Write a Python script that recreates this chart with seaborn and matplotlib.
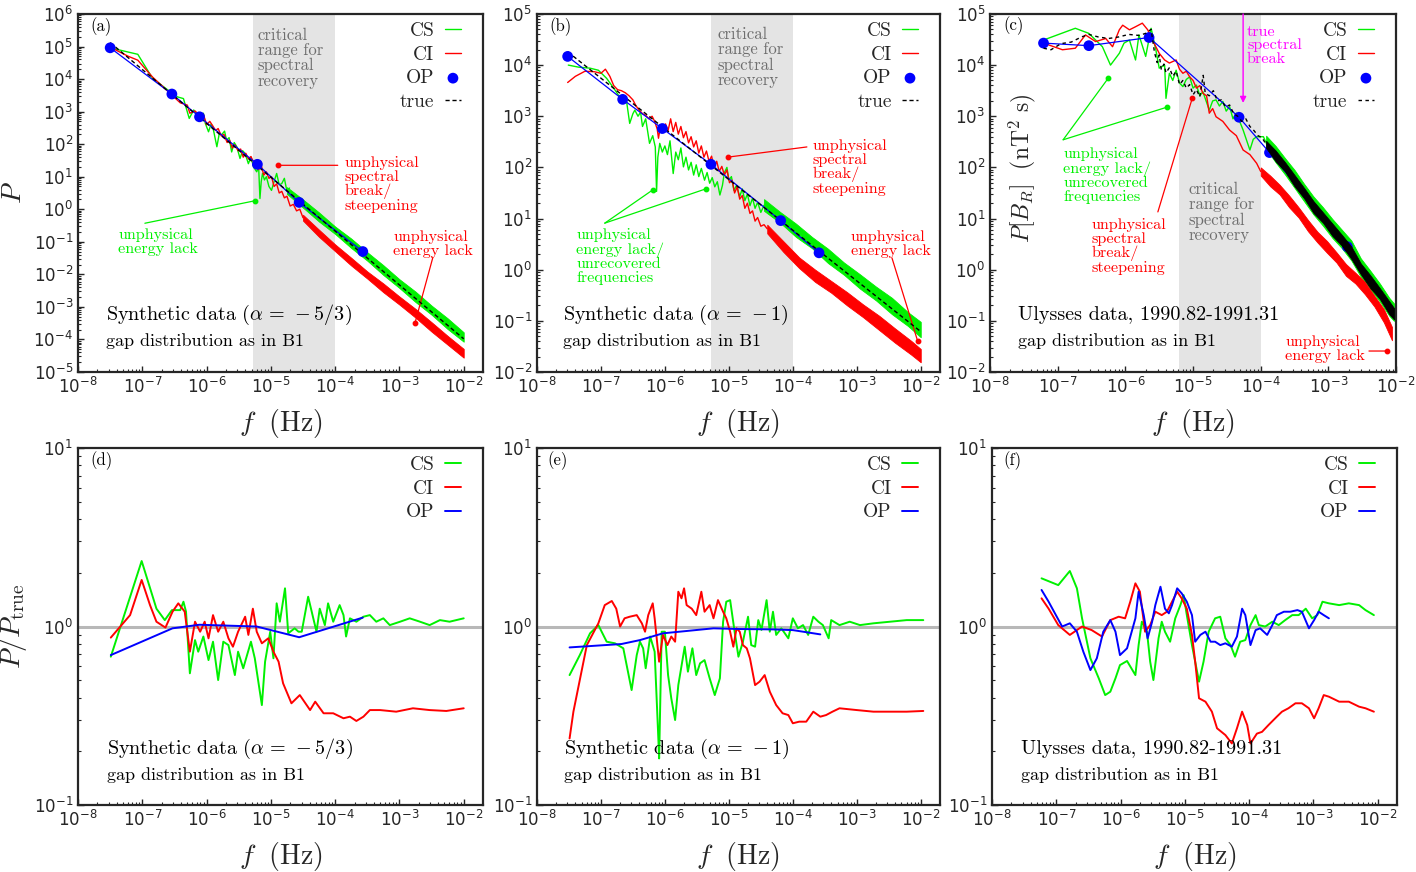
import numpy as np
import matplotlib
matplotlib.use("Agg")
import matplotlib.pyplot as plt
import seaborn as sns
from matplotlib.ticker import LogLocator, NullFormatter

# All values are log10:  lf = log10(f / Hz), lp = log10(P), lr = log10(P / P_true)

# ---------------- (a) synthetic data, alpha = -5/3 ----------------
a_true_lf = [-7.50, -2.00]
a_true_lp = [5.12, -3.98]
a_op_lf = [-7.50, -6.54, -6.11, -5.21, -4.56, -3.57]
a_op_lp = [4.96, 3.54, 2.84, 1.38, 0.21, -1.30]
a_cs_lf = [-7.50, -7.07, -6.84, -6.60, -6.45, -6.36, -6.27, -6.20, -6.14, -6.10, -6.05, -6.02,
           -5.97, -5.93, -5.90, -5.84, -5.80, -5.77, -5.72, -5.69, -5.65, -5.61, -5.57, -5.53,
           -5.48, -5.44, -5.40, -5.35, -5.31, -5.27, -5.22, -5.19, -5.17, -5.15, -5.13, -5.10,
           -5.07, -5.03, -4.99, -4.95, -4.91, -4.87, -4.83, -4.79, -4.75, -4.71]
a_cs_lp = [4.96, 4.76, 4.02, 3.66, 3.45, 3.40, 2.79, 3.05, 2.85, 2.79, 2.95, 2.64,
           2.38, 2.62, 2.50, 1.92, 2.35, 2.28, 2.40, 2.12, 2.20, 1.76, 2.05, 1.92,
           1.56, 1.80, 1.71, 1.40, 1.60, 1.30, 1.15, 1.30, 0.33, 0.85, 1.10, 0.90,
           1.00, 0.70, 0.58, 0.85, 1.10, 0.75, 0.79, 0.95, 0.55, 0.65]
a_cs_band_lf = [-4.75, -4.50, -4.25, -4.00, -3.75, -3.50, -3.25, -3.00, -2.75, -2.50, -2.25, -2.00]
a_cs_band_lo = [0.47, 0.05, -0.38, -0.76, -1.19, -1.58, -2.02, -2.42, -2.85, -3.24, -3.68, -4.07]
a_cs_band_hi = [0.68, 0.30, -0.10, -0.53, -0.90, -1.32, -1.72, -2.15, -2.53, -2.96, -3.35, -3.78]
a_ci_lf = [-7.50, -7.22, -7.07, -6.84, -6.60, -6.41, -6.30, -6.26, -6.18, -6.10, -6.05, -6.00,
           -5.95, -5.90, -5.86, -5.82, -5.77, -5.73, -5.68, -5.64, -5.60, -5.56, -5.51, -5.47,
           -5.43, -5.39, -5.35, -5.31, -5.27, -5.23, -5.19, -5.15, -5.11, -5.07, -5.03, -4.99,
           -4.95, -4.91, -4.87, -4.83, -4.79, -4.75, -4.70, -4.65, -4.60, -4.55, -4.50]
a_ci_lp = [4.98, 4.70, 4.58, 4.06, 3.62, 3.27, 3.20, 2.95, 3.02, 2.86, 2.92, 2.60,
           2.70, 2.55, 2.42, 2.48, 2.25, 2.30, 2.05, 2.12, 1.88, 1.98, 1.80, 1.85,
           1.60, 1.72, 1.55, 1.62, 1.45, 1.50, 1.22, 1.35, 1.05, 1.15, 0.95, 1.00,
           0.70, 0.78, 0.50, 0.55, 0.35, 0.40, 0.10, 0.15, -0.05, 0.00, -0.26]
a_ci_band_lf = [-4.50, -4.25, -4.00, -3.75, -3.50, -3.25, -3.00, -2.75, -2.50, -2.25, -2.00]
a_ci_band_lo = [-0.35, -0.85, -1.29, -1.73, -2.13, -2.55, -2.93, -3.33, -3.76, -4.16, -4.56]
a_ci_band_hi = [-0.17, -0.63, -1.08, -1.49, -1.91, -2.28, -2.68, -3.06, -3.47, -3.89, -4.29]

# ---------------- (b) synthetic data, alpha = -1 ----------------
b_true_lf = [-7.52, -2.00]
b_true_lp = [4.26, -1.21]
b_op_lf = [-7.52, -6.66, -6.04, -5.28, -4.19, -3.59]
b_op_lp = [4.17, 3.33, 2.76, 2.06, 0.96, 0.33]
b_cs_lf = [-7.51, -7.35, -7.17, -7.04, -6.91, -6.80, -6.72, -6.66, -6.60, -6.55, -6.50, -6.47,
           -6.42, -6.38, -6.35, -6.30, -6.24, -6.19, -6.15, -6.13, -6.11, -6.08, -6.04, -6.00,
           -5.96, -5.92, -5.87, -5.83, -5.79, -5.75, -5.71, -5.67, -5.63, -5.59, -5.55, -5.51,
           -5.47, -5.43, -5.38, -5.34, -5.30, -5.26, -5.22, -5.18, -5.14, -5.10, -5.07, -5.03,
           -5.00, -4.96, -4.92, -4.88, -4.83, -4.79, -4.75, -4.71, -4.67, -4.63, -4.59, -4.55,
           -4.50, -4.45]
b_cs_lp = [4.00, 3.96, 3.94, 3.90, 3.74, 3.55, 3.40, 3.38, 3.30, 2.86, 3.05, 3.12,
           3.00, 3.08, 2.80, 2.95, 2.47, 2.62, 2.40, 1.53, 2.20, 2.47, 2.30, 2.42,
           2.25, 2.52, 1.88, 2.30, 2.15, 2.38, 2.01, 2.20, 1.95, 2.10, 1.85, 2.05,
           1.82, 1.98, 1.75, 1.90, 1.69, 1.80, 1.62, 1.72, 1.46, 1.65, 1.90, 2.00,
           1.75, 1.82, 1.55, 1.65, 1.43, 1.58, 1.35, 1.48, 1.25, 1.40, 1.20, 1.32,
           1.12, 1.26]
b_cs_band_lf = [-4.45, -4.20, -3.95, -3.70, -3.45, -3.20, -2.95, -2.70, -2.45, -2.20, -2.00]
b_cs_band_lo = [1.15, 0.92, 0.64, 0.42, 0.13, -0.10, -0.37, -0.60, -0.87, -1.10, -1.32]
b_cs_band_hi = [1.38, 1.13, 0.90, 0.64, 0.41, 0.14, -0.09, -0.33, -0.55, -0.83, -1.02]
b_ci_lf = [-7.52, -7.40, -7.25, -7.10, -7.00, -6.93, -6.86, -6.80, -6.74, -6.68, -6.62, -6.56,
           -6.50, -6.45, -6.40, -6.35, -6.30, -6.25, -6.20, -6.16, -6.12, -6.10, -6.07, -6.03,
           -5.99, -5.95, -5.91, -5.87, -5.83, -5.79, -5.75, -5.71, -5.67, -5.63, -5.59, -5.55,
           -5.51, -5.47, -5.43, -5.39, -5.35, -5.31, -5.27, -5.23, -5.19, -5.15, -5.11, -5.07,
           -5.03, -4.99, -4.95, -4.91, -4.87, -4.83, -4.79, -4.75, -4.71, -4.67, -4.63, -4.59,
           -4.55, -4.50, -4.45, -4.40]
b_ci_lp = [3.66, 3.78, 3.88, 3.87, 3.84, 3.92, 3.78, 3.60, 3.52, 3.50, 3.46, 3.40,
           3.32, 3.20, 3.12, 3.05, 3.02, 2.95, 3.00, 2.90, 2.75, 2.57, 2.80, 2.70,
           2.85, 2.72, 2.95, 2.70, 2.88, 2.65, 2.80, 2.58, 2.70, 2.48, 2.60, 2.40,
           2.52, 2.28, 2.42, 2.20, 2.32, 2.12, 2.22, 2.00, 2.12, 1.92, 2.02, 1.85,
           1.95, 1.70, 1.75, 1.50, 1.62, 1.38, 1.45, 1.20, 1.30, 1.10, 1.15, 0.95,
           1.02, 0.85, 0.88, 0.80]
b_ci_band_lf = [-4.40, -4.15, -3.90, -3.65, -3.40, -3.15, -2.90, -2.65, -2.40, -2.15, -2.00]
b_ci_band_lo = [0.71, 0.35, 0.03, -0.24, -0.45, -0.70, -0.93, -1.18, -1.43, -1.66, -1.81]
b_ci_band_hi = [0.88, 0.56, 0.24, 0.00, -0.22, -0.44, -0.68, -0.90, -1.15, -1.39, -1.55]

# ---------------- (c) Ulysses data ----------------
c_op_lf = [-7.21, -6.54, -5.65, -4.32, -3.87, -2.72]
c_op_lp = [4.43, 4.38, 4.54, 2.98, 2.29, 0.45]
c_true_lf = [-7.21, -7.10, -6.95, -6.80, -6.65, -6.54, -6.40, -6.25, -6.10, -5.95, -5.80, -5.70,
             -5.62, -5.57, -5.53, -5.50, -5.47, -5.43, -5.40, -5.35, -5.30, -5.25, -5.20, -5.15,
             -5.10, -5.05, -5.00, -4.95, -4.90, -4.85, -4.82, -4.76, -4.70, -4.64, -4.58, -4.52,
             -4.46, -4.40, -4.34, -4.28, -4.22, -4.16, -4.10, -4.04, -3.98, -3.92]
c_true_lp = [4.33, 4.30, 4.42, 4.45, 4.55, 4.60, 4.55, 4.52, 4.55, 4.60, 4.58, 4.62,
             4.70, 4.25, 4.05, 4.20, 3.92, 4.02, 3.85, 3.95, 3.78, 3.88, 3.62, 3.70,
             3.55, 3.62, 3.42, 3.52, 3.38, 3.80, 3.45, 3.40, 3.50, 3.30, 3.32, 3.18,
             3.22, 3.05, 3.00, 2.90, 2.95, 2.80, 2.72, 2.62, 2.58, 2.45]
c_band_lf = [-3.92, -3.78, -3.64, -3.50, -3.36, -3.22, -3.08, -2.94, -2.80, -2.66, -2.52, -2.38,
             -2.24, -2.10, -2.03]
c_true_band_lo = [2.38, 2.12, 1.92, 1.63, 1.40, 1.11, 0.92, 0.66, 0.47, 0.21, -0.09, -0.36,
                  -0.57, -0.87, -0.97]
c_true_band_hi = [2.52, 2.33, 2.10, 1.85, 1.60, 1.34, 1.12, 0.90, 0.68, 0.45, 0.12, -0.11,
                  -0.36, -0.62, -0.75]
c_cs_band_lo = [2.36, 2.10, 1.86, 1.60, 1.34, 1.08, 0.86, 0.62, 0.42, 0.18, -0.14, -0.38,
                -0.62, -0.90, -1.00]
c_cs_band_hi = [2.62, 2.42, 2.18, 1.95, 1.68, 1.43, 1.22, 0.99, 0.78, 0.57, 0.22, -0.02,
                -0.27, -0.55, -0.66]
c_cs_lf = [-7.21, -6.74, -6.54, -6.34, -6.22, -6.09, -6.02, -5.94, -5.85, -5.80, -5.70, -5.62,
           -5.55, -5.50, -5.42, -5.40, -5.35, -5.30, -5.25, -5.20, -5.15, -5.10, -5.05, -5.00,
           -4.95, -4.90, -4.855, -4.76, -4.71, -4.66, -4.61, -4.56, -4.51, -4.46, -4.41, -4.36,
           -4.26, -4.16, -4.11, -4.06, -3.96, -3.91]
c_cs_lp = [4.49, 4.72, 4.62, 4.36, 4.00, 4.23, 4.43, 4.49, 4.10, 4.59, 4.17, 4.72,
           4.30, 3.94, 4.00, 3.35, 3.84, 3.70, 3.90, 3.65, 3.58, 3.72, 3.77, 3.55,
           3.61, 3.40, 3.48, 3.12, 3.30, 3.32, 3.20, 3.29, 3.10, 3.19, 2.95, 3.06,
           2.73, 2.34, 2.55, 2.60, 2.60, 2.45]
c_ci_lf = [-7.21, -6.93, -6.74, -6.59, -6.44, -6.29, -6.19, -6.09, -6.04, -5.94, -5.85, -5.75,
           -5.67, -5.60, -5.50, -5.42, -5.35, -5.25, -5.20, -5.15, -5.10, -5.05, -5.00, -4.95,
           -4.90, -4.855, -4.80, -4.76, -4.71, -4.66, -4.56, -4.46, -4.36, -4.26, -4.16, -4.06,
           -4.00]
c_ci_lp = [4.43, 4.30, 4.33, 4.59, 4.46, 4.52, 4.36, 4.69, 4.78, 4.69, 4.75, 4.82,
           4.69, 4.49, 4.23, 4.10, 4.04, 4.10, 3.92, 3.84, 3.88, 3.77, 3.70, 3.55,
           3.60, 3.45, 3.40, 3.06, 3.15, 2.99, 2.90, 2.73, 2.62, 2.34, 2.25, 2.08,
           1.92]
c_ci_band_lf = [-4.00, -3.86, -3.72, -3.58, -3.44, -3.30, -3.16, -3.02, -2.88, -2.74, -2.60,
                -2.46, -2.32, -2.18, -2.06]
c_ci_band_lo = [1.84, 1.63, 1.47, 1.22, 1.02, 0.75, 0.53, 0.33, 0.14, -0.12, -0.27,
                -0.48, -0.72, -1.03, -1.38]
c_ci_band_hi = [2.00, 1.84, 1.66, 1.45, 1.22, 0.97, 0.74, 0.56, 0.34, 0.11, -0.06,
                -0.24, -0.51, -0.77, -1.12]

# ---------------- (d) ratio, alpha = -5/3 ----------------
d_op_lf = [-7.49, -6.53, -6.11, -5.22, -4.56, -3.57]
d_op_lr = [-0.16, -0.01, 0.01, 0.00, -0.06, 0.05]
d_cs_lf = [-7.49, -7.01, -6.78, -6.65, -6.54, -6.41, -6.36, -6.32, -6.26, -6.18, -6.13, -6.05,
           -5.97, -5.90, -5.82, -5.74, -5.66, -5.56, -5.51, -5.43, -5.31, -5.25, -5.14, -5.09,
           -5.01, -4.96, -4.91, -4.86, -4.78, -4.73, -4.63, -4.57, -4.52, -4.42, -4.34, -4.29,
           -4.24, -4.16, -4.11, -4.03, -3.93, -3.87, -3.83, -3.77, -3.67, -3.56, -3.46, -3.36,
           -3.25, -3.15, -2.99, -2.84, -2.68, -2.53, -2.37, -2.22, -2.00]
d_cs_lr = [-0.169, 0.367, 0.10, 0.036, 0.092, 0.092, 0.139, 0.083, -0.262, -0.076, -0.141, -0.056,
           -0.188, -0.085, -0.30, -0.085, -0.104, -0.272, -0.141, -0.234, -0.085, -0.178, -0.44, -0.197,
           -0.029, -0.178, 0.13, 0.027, 0.214, -0.038, -0.01, -0.029, -0.029, 0.167, 0.046, -0.029,
           0.10, 0.008, 0.13, 0.027, 0.12, 0.064, -0.056, 0.046, 0.027, 0.055, 0.064, 0.027,
           0.046, 0.008, 0.027, 0.046, 0.027, 0.008, 0.036, 0.027, 0.046]
d_ci_lf = [-7.49, -7.19, -7.01, -6.88, -6.78, -6.64, -6.53, -6.44, -6.34, -6.26, -6.18, -6.10,
           -6.03, -5.97, -5.90, -5.82, -5.74, -5.66, -5.59, -5.51, -5.40, -5.35, -5.28, -5.22,
           -5.14, -5.04, -4.96, -4.88, -4.81, -4.68, -4.55, -4.39, -4.31, -4.18, -4.03, -3.87,
           -3.77, -3.67, -3.56, -3.46, -3.30, -3.05, -2.79, -2.53, -2.27, -2.00]
d_ci_lr = [-0.062, 0.064, 0.261, 0.12, 0.027, -0.006, 0.083, 0.13, 0.083, -0.141, 0.027, -0.029,
           0.027, -0.066, 0.064, -0.029, 0.027, -0.066, -0.113, -0.029, 0.055, -0.047, 0.10, -0.029,
           -0.094, -0.066, -0.141, -0.197, -0.318, -0.43, -0.384, -0.468, -0.421, -0.486, -0.486, -0.514,
           -0.505, -0.529, -0.505, -0.468, -0.468, -0.477, -0.458, -0.468, -0.473, -0.458]

# ---------------- (e) ratio, alpha = -1 ----------------
e_op_lf = [-7.49, -6.68, -6.39, -6.03, -5.66, -5.24, -4.83, -4.31, -4.00, -3.57]
e_op_lr = [-0.117, -0.098, -0.076, -0.038, -0.025, -0.010, -0.014, -0.016, -0.020, -0.044]
e_cs_lf = [-7.49, -7.33, -7.17, -7.04, -6.91, -6.78, -6.65, -6.52, -6.44, -6.39, -6.34, -6.30,
           -6.23, -6.16, -6.10, -6.09, -6.05, -6.00, -5.95, -5.90, -5.84, -5.79, -5.69, -5.64,
           -5.57, -5.51, -5.45, -5.38, -5.30, -5.22, -5.14, -5.09, -5.04, -4.98, -4.91, -4.85,
           -4.78, -4.70, -4.65, -4.59, -4.54, -4.49, -4.41, -4.36, -4.31, -4.26, -4.18, -4.07,
           -4.00, -3.92, -3.84, -3.76, -3.68, -3.60, -3.53, -3.44, -3.40, -3.27, -3.11, -2.95,
           -2.74, -2.48, -2.22, -1.96]
e_cs_lr = [-0.272, -0.16, -0.038, 0.008, -0.085, -0.094, -0.122, -0.356, -0.16, -0.085, -0.122, -0.234,
           -0.056, -0.141, -0.645, -0.739, -0.029, -0.029, -0.272, -0.402, -0.524, -0.328, -0.113, -0.253,
           -0.122, -0.272, -0.206, -0.188, -0.29, -0.384, -0.29, 0.027, 0.139, 0.148, -0.029, -0.169,
           -0.085, 0.055, -0.104, -0.113, 0.036, -0.019, 0.148, -0.029, 0.083, -0.047, -0.01, -0.066,
           0.046, -0.01, 0.008, -0.047, 0.055, 0.027, 0.008, -0.066, 0.036, 0.008, 0.027, 0.008,
           0.018, 0.027, 0.036, 0.036]
e_ci_lf = [-7.49, -7.43, -7.22, -7.04, -6.94, -6.83, -6.76, -6.70, -6.63, -6.55, -6.44, -6.36,
           -6.31, -6.26, -6.19, -6.16, -6.09, -6.03, -5.96, -5.90, -5.84, -5.79, -5.74, -5.70,
           -5.66, -5.58, -5.51, -5.43, -5.38, -5.30, -5.24, -5.17, -5.09, -5.04, -4.98, -4.93,
           -4.88, -4.83, -4.78, -4.72, -4.67, -4.59, -4.52, -4.44, -4.36, -4.26, -4.16, -4.07,
           -4.00, -3.90, -3.79, -3.68, -3.57, -3.48, -3.38, -3.27, -3.00, -2.74, -2.48, -2.22,
           -1.96]
e_ci_lr = [-0.627, -0.477, -0.104, 0.018, 0.12, 0.143, 0.10, 0.0, 0.046, 0.055, 0.064, 0.018,
           -0.029, 0.064, 0.13, 0.046, -0.197, -0.047, -0.104, -0.056, -0.085, 0.195, 0.158, 0.214,
           0.12, 0.10, 0.064, 0.195, 0.083, 0.12, 0.046, 0.148, 0.083, 0.046, -0.029, -0.113,
           -0.01, -0.029, -0.104, -0.122, -0.178, -0.328, -0.309, -0.272, -0.365, -0.44, -0.486, -0.496,
           -0.542, -0.533, -0.533, -0.477, -0.505, -0.496, -0.477, -0.458, -0.468, -0.477, -0.477, -0.477,
           -0.473]

# ---------------- (f) ratio, Ulysses ----------------
f_cs_lf = [-7.23, -6.97, -6.79, -6.68, -6.60, -6.47, -6.34, -6.24, -6.16, -6.08, -6.01, -5.90,
           -5.77, -5.72, -5.67, -5.59, -5.54, -5.49, -5.41, -5.36, -5.31, -5.23, -5.15, -5.07,
           -5.02, -4.97, -4.89, -4.78, -4.71, -4.63, -4.53, -4.45, -4.37, -4.29, -4.22, -4.14,
           -4.06, -3.98, -3.90, -3.85, -3.75, -3.64, -3.54, -3.44, -3.33, -3.23, -3.12, -3.02,
           -2.94, -2.86, -2.76, -2.60, -2.45, -2.29, -2.19, -2.06]
f_cs_lr = [0.27, 0.232, 0.311, 0.214, 0.046, -0.178, -0.29, -0.384, -0.365, -0.29, -0.216, -0.193,
           -0.272, -0.104, 0.027, -0.029, -0.197, -0.30, -0.066, 0.027, -0.029, -0.085, 0.046, 0.12,
           0.176, 0.064, -0.104, -0.309, -0.197, -0.029, 0.046, 0.055, -0.066, -0.104, -0.169, -0.085,
           -0.076, 0.008, 0.064, 0.008, 0.0, 0.027, 0.008, 0.036, 0.064, 0.064, 0.10, 0.046,
           0.064, 0.139, 0.13, 0.12, 0.13, 0.12, 0.092, 0.064]
f_ci_lf = [-7.23, -7.12, -6.97, -6.79, -6.60, -6.45, -6.29, -6.16, -6.03, -5.93, -5.85, -5.77,
           -5.70, -5.62, -5.54, -5.46, -5.36, -5.28, -5.20, -5.12, -5.05, -4.97, -4.89, -4.84,
           -4.78, -4.68, -4.58, -4.50, -4.37, -4.27, -4.19, -4.11, -4.03, -3.98, -3.88, -3.80,
           -3.70, -3.57, -3.49, -3.39, -3.28, -3.18, -3.07, -2.99, -2.92, -2.84, -2.76, -2.60,
           -2.45, -2.29, -2.19, -2.06]
f_ci_lr = [0.158, 0.10, 0.008, -0.047, 0.0, -0.02, -0.056, 0.036, 0.055, 0.046, 0.139, 0.242,
           0.195, -0.029, 0.008, 0.083, 0.064, 0.083, 0.139, 0.195, 0.158, 0.10, -0.047, -0.197,
           -0.402, -0.421, -0.477, -0.57, -0.608, -0.655, -0.57, -0.477, -0.552, -0.655, -0.60, -0.59,
           -0.552, -0.505, -0.477, -0.458, -0.43, -0.43, -0.458, -0.514, -0.458, -0.384, -0.393, -0.421,
           -0.421, -0.449, -0.458, -0.477]
f_op_lf = [-7.23, -7.12, -6.91, -6.79, -6.68, -6.58, -6.47, -6.37, -6.27, -6.16, -6.08, -6.01,
           -5.90, -5.82, -5.77, -5.72, -5.64, -5.58, -5.51, -5.46, -5.38, -5.31, -5.25, -5.20,
           -5.12, -5.05, -4.97, -4.89, -4.84, -4.76, -4.68, -4.60, -4.53, -4.45, -4.37, -4.27,
           -4.19, -4.11, -4.06, -3.98, -3.90, -3.83, -3.72, -3.64, -3.57, -3.46, -3.36, -3.25,
           -3.18, -3.07, -2.99, -2.92, -2.84, -2.76]
f_op_lr = [0.205, 0.139, 0.0, 0.018, -0.029, -0.141, -0.244, -0.178, -0.029, 0.036, -0.029, -0.16,
           -0.122, -0.019, 0.046, 0.195, 0.064, -0.066, 0.027, 0.12, 0.223, 0.10, 0.074, 0.12,
           0.214, 0.186, 0.139, 0.064, -0.085, -0.047, -0.029, -0.085, -0.085, -0.104, -0.094, -0.113,
           -0.056, 0.10, 0.064, -0.104, -0.02, -0.01, -0.047, 0.008, 0.064, 0.083, 0.083, 0.092,
           0.083, -0.01, 0.036, 0.083, 0.064, 0.046]

GREEN, RED, BLUE = "#00f000", "#ff0000", "#0000ff"
GRAYTXT = "#6e6e6e"
SERIF = "cmr10"

sns.set_style("ticks")
plt.rcParams.update({
    "font.family": ["DejaVu Sans"],
    "mathtext.fontset": "dejavusans",
    "axes.linewidth": 1.6,
    "xtick.direction": "in", "ytick.direction": "in",
    "xtick.major.size": 4.5, "ytick.major.size": 4.5,
    "xtick.minor.size": 2.3, "ytick.minor.size": 2.3,
    "xtick.major.width": 1.0, "ytick.major.width": 1.0,
    "xtick.minor.width": 0.8, "ytick.minor.width": 0.8,
})


def pw(v):
    return 10 ** np.asarray(v, dtype=float)


def curve(ax, lf, lv, color, lw=1.0, **kw):
    sns.lineplot(x=pw(lf), y=pw(lv), ax=ax, color=color, lw=lw,
                 estimator=None, sort=False, legend=False, **kw)
    return ax.lines[-1]


def band(ax, lf, lo, hi, color, z):
    ax.fill_between(pw(lf), pw(lo), pw(hi), color=color, lw=0.6, ec=color, zorder=z)


def note(ax, x, y, s, color="k", size=11.7, va="top", **kw):
    ax.text(x, y, s, transform=ax.transAxes, color=color, fontsize=size, family=SERIF,
            math_fontfamily="cm", linespacing=1.0, va=va, ha="left", **kw)


def leader(ax, start, end, color):
    ax.annotate("", xy=(10 ** end[0], 10 ** end[1]), xytext=(10 ** start[0], 10 ** start[1]),
                arrowprops=dict(arrowstyle="-", color=color, lw=0.9, shrinkA=0, shrinkB=0))
    ax.plot(10 ** end[0], 10 ** end[1], "o", color=color, ms=3.2, zorder=6)


def log_axes(ax, xlim, ylim):
    ax.set_xscale("log")
    ax.set_yscale("log")
    ax.set_xlim(*xlim)
    ax.set_ylim(*ylim)
    for axis in (ax.xaxis, ax.yaxis):
        axis.set_major_locator(LogLocator(10, numticks=20))
        axis.set_minor_locator(LogLocator(10, subs=np.arange(2, 10), numticks=20))
        axis.set_minor_formatter(NullFormatter())
    ax.tick_params(which="both", top=False, right=False, labelsize=12)
    ax.set_xlabel(r"$f\ \ (\mathrm{Hz})$", fontsize=20, math_fontfamily="cm", labelpad=7)


def legend(ax, handles, labels):
    ax.legend(handles, labels, loc="upper right", bbox_to_anchor=(0.945, 0.978),
              frameon=False, markerfirst=False, handlelength=0.8, handletextpad=0.55,
              labelspacing=0.3, borderpad=0, borderaxespad=0, scatterpoints=1,
              prop={"family": SERIF, "size": 14})


fig = plt.figure(figsize=(14.16, 8.72), dpi=100)
top_y, top_h = 0.5734, 0.4106
bot_y, bot_h = 0.0768, 0.4094
ax_a = fig.add_axes([0.0551, top_y, 0.2860, top_h])
ax_b = fig.add_axes([0.3792, top_y, 0.2846, top_h])
ax_c = fig.add_axes([0.6992, top_y, 0.2867, top_h])
ax_d = fig.add_axes([0.0551, bot_y, 0.2860, bot_h])
ax_e = fig.add_axes([0.3792, bot_y, 0.2846, bot_h])
ax_f = fig.add_axes([0.7006, bot_y, 0.2860, bot_h])

XLIM = (1e-8, 10 ** -1.7)

# ---------- (a) ----------
ax = ax_a
log_axes(ax, XLIM, (1e-5, 1e6))
ax.axvspan(5.2e-6, 1e-4, color="#e4e4e4", lw=0, zorder=0)
band(ax, a_cs_band_lf, a_cs_band_lo, a_cs_band_hi, GREEN, 2)
cs = curve(ax, a_cs_lf, a_cs_lp, GREEN, zorder=2)
band(ax, a_ci_band_lf, a_ci_band_lo, a_ci_band_hi, RED, 3)
ci = curve(ax, a_ci_lf, a_ci_lp, RED, zorder=3)
curve(ax, a_op_lf, a_op_lp, BLUE, lw=0.9, zorder=4)
tr = curve(ax, a_true_lf, a_true_lp, "k", lw=1.0, linestyle=(0, (3, 2)), zorder=5)
sns.scatterplot(x=pw(a_op_lf), y=pw(a_op_lp), ax=ax, color=BLUE, s=60, edgecolor="none",
                zorder=6, legend=False)
op = ax.collections[-1]
legend(ax, [cs, ci, op, tr], ["CS", "CI", "OP", "true"])
ax.set_ylabel(r"$P$", fontsize=20, math_fontfamily="cm")
ax.yaxis.set_label_coords(-0.125, 0.5)
note(ax, 0.030, 0.965, "(a)", size=12, va="center")
note(ax, 0.444, 0.962, "critical\nrange for\nspectral\nrecovery", color=GRAYTXT, size=12)
note(ax, 0.659, 0.603, "unphysical\nspectral\nbreak/\nsteepening", color=RED)
leader(ax, (-3.96, 1.35), (-4.89, 1.35), RED)
note(ax, 0.099, 0.402, "unphysical\nenergy lack", color=GREEN)
leader(ax, (-6.96, -0.43), (-5.25, 0.26), GREEN)
note(ax, 0.778, 0.397, "unphysical\nenergy lack", color=RED)
leader(ax, (-2.48, -1.48), (-2.76, -3.51), RED)
note(ax, 0.069, 0.159, r"Synthetic data ($\alpha\,=\,-5/3$)", size=14.5, va="center")
note(ax, 0.069, 0.087, "gap distribution as in B1", size=13, va="center")

# ---------- (b) ----------
ax = ax_b
log_axes(ax, XLIM, (1e-2, 1e5))
ax.axvspan(5.2e-6, 1e-4, color="#e4e4e4", lw=0, zorder=0)
band(ax, b_cs_band_lf, b_cs_band_lo, b_cs_band_hi, GREEN, 2)
cs = curve(ax, b_cs_lf, b_cs_lp, GREEN, zorder=2)
band(ax, b_ci_band_lf, b_ci_band_lo, b_ci_band_hi, RED, 3)
ci = curve(ax, b_ci_lf, b_ci_lp, RED, zorder=3)
curve(ax, b_op_lf, b_op_lp, BLUE, lw=0.9, zorder=4)
tr = curve(ax, b_true_lf, b_true_lp, "k", lw=1.0, linestyle=(0, (3, 2)), zorder=5)
sns.scatterplot(x=pw(b_op_lf), y=pw(b_op_lp), ax=ax, color=BLUE, s=60, edgecolor="none",
                zorder=6, legend=False)
op = ax.collections[-1]
legend(ax, [cs, ci, op, tr], ["CS", "CI", "OP", "true"])
note(ax, 0.032, 0.965, "(b)", size=12, va="center")
note(ax, 0.449, 0.964, "critical\nrange for\nspectral\nrecovery", color=GRAYTXT, size=12)
note(ax, 0.685, 0.651, "unphysical\nspectral\nbreak/\nsteepening", color=RED)
leader(ax, (-3.78, 2.40), (-5.02, 2.20), RED)
note(ax, 0.097, 0.402, "unphysical\nenergy lack/\nunrecovered\nfrequencies", color=GREEN)
leader(ax, (-6.94, 0.91), (-6.19, 1.56), GREEN)
leader(ax, (-6.94, 0.91), (-5.36, 1.58), GREEN)
note(ax, 0.779, 0.397, "unphysical\nenergy lack", color=RED)
leader(ax, (-2.45, 0.23), (-2.05, -1.39), RED)
note(ax, 0.065, 0.159, r"Synthetic data ($\alpha\,=\,-1$)", size=14.5, va="center")
note(ax, 0.065, 0.087, "gap distribution as in B1", size=13, va="center")

# ---------- (c) ----------
ax = ax_c
log_axes(ax, (1e-8, 1e-2), (1e-2, 1e5))
ax.axvspan(6.3e-6, 1e-4, color="#e4e4e4", lw=0, zorder=0)
band(ax, c_band_lf, c_cs_band_lo, c_cs_band_hi, GREEN, 2)
cs = curve(ax, c_cs_lf, c_cs_lp, GREEN, zorder=2)
band(ax, c_ci_band_lf, c_ci_band_lo, c_ci_band_hi, RED, 3)
ci = curve(ax, c_ci_lf, c_ci_lp, RED, zorder=3)
curve(ax, c_op_lf, c_op_lp, BLUE, lw=0.9, zorder=4)
sns.scatterplot(x=pw(c_op_lf), y=pw(c_op_lp), ax=ax, color=BLUE, s=60, edgecolor="none",
                zorder=4.5, legend=False)
op = ax.collections[-1]
band(ax, c_band_lf, c_true_band_lo, c_true_band_hi, "k", 5)
tr = curve(ax, c_true_lf, c_true_lp, "k", lw=1.0, linestyle=(0, (2.5, 2.5)), zorder=5)
legend(ax, [cs, ci, op, tr], ["CS", "CI", "OP", "true"])
ax.text(0.079, 0.57, r"$P[B_R]\ \ (\mathrm{nT}^2\ \mathrm{s})$", transform=ax.transAxes,
        rotation=90, ha="center", va="center", fontsize=17, math_fontfamily="cm")
note(ax, 0.032, 0.967, "(c)", size=12, va="center")
note(ax, 0.633, 0.969, "true\nspectral\nbreak", color="#ff00ff")
ax.annotate("", xy=(10 ** -4.26, 10 ** 3.26), xytext=(10 ** -4.26, 10 ** 5.0),
            arrowprops=dict(arrowstyle="-|>", color="#ff00ff", lw=1.0, mutation_scale=9,
                            shrinkA=0, shrinkB=0))
note(ax, 0.49, 0.531, "critical\nrange for\nspectral\nrecovery", color=GRAYTXT, size=12)
note(ax, 0.18, 0.628, "unphysical\nenergy lack/\nunrecovered\nfrequencies", color=GREEN)
leader(ax, (-6.92, 2.54), (-6.25, 3.75), GREEN)
leader(ax, (-6.92, 2.54), (-5.38, 3.18), GREEN)
note(ax, 0.251, 0.43, "unphysical\nspectral\nbreak/\nsteepening", color=RED)
leader(ax, (-5.52, 1.13), (-5.01, 3.36), RED)
note(ax, 0.727, 0.103, "unphysical\nenergy lack", color=RED)
leader(ax, (-2.40, -1.59), (-2.13, -1.59), RED)
note(ax, 0.069, 0.159, "Ulysses data, 1990.82-1991.31", size=14.5, va="center")
note(ax, 0.069, 0.087, "gap distribution as in B1", size=13, va="center")

# ---------- bottom row: ratios ----------
ratio_panels = [
    (ax_d, "(d)", d_cs_lf, d_cs_lr, d_ci_lf, d_ci_lr, d_op_lf, d_op_lr,
     r"Synthetic data ($\alpha\,=\,-5/3$)", 0.030, 0.072),
    (ax_e, "(e)", e_cs_lf, e_cs_lr, e_ci_lf, e_ci_lr, e_op_lf, e_op_lr,
     r"Synthetic data ($\alpha\,=\,-1$)", 0.027, 0.067),
    (ax_f, "(f)", f_cs_lf, f_cs_lr, f_ci_lf, f_ci_lr, f_op_lf, f_op_lr,
     "Ulysses data, 1990.82-1991.31", 0.027, 0.072),
]
for ax, tag, cslf, cslr, cilf, cilr, oplf, oplr, title, tx, sx in ratio_panels:
    log_axes(ax, XLIM, (0.1, 10))
    ax.axhline(1, color="#b8b8b8", lw=2.2, zorder=1)
    cs = curve(ax, cslf, cslr, GREEN, lw=1.4, zorder=2)
    ci = curve(ax, cilf, cilr, RED, lw=1.4, zorder=3)
    op = curve(ax, oplf, oplr, BLUE, lw=1.4, zorder=4)
    legend(ax, [cs, ci, op], ["CS", "CI", "OP"])
    note(ax, tx, 0.966, tag, size=12, va="center")
    note(ax, sx, 0.157, title, size=14.5, va="center")
    note(ax, sx, 0.084, "gap distribution as in B1", size=13, va="center")

ax_d.set_ylabel(r"$P/P_{\mathrm{true}}$", fontsize=20, math_fontfamily="cm")
ax_d.yaxis.set_label_coords(-0.12, 0.5)

fig.savefig("out.png", dpi=100)
